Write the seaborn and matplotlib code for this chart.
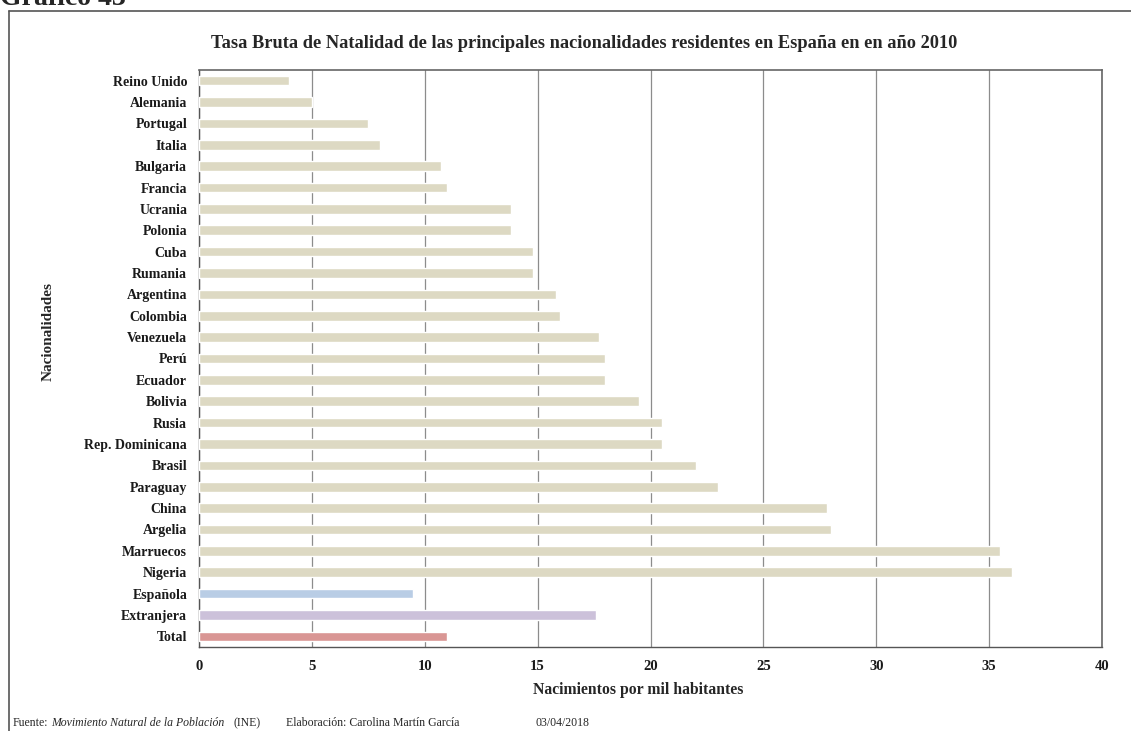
import matplotlib
matplotlib.use("Agg")
import matplotlib.pyplot as plt
from matplotlib.ticker import MultipleLocator, FixedLocator
import seaborn as sns
import pandas as pd

paises = ["Reino Unido", "Alemania", "Portugal", "Italia", "Bulgaria", "Francia",
          "Ucrania", "Polonia", "Cuba", "Rumania", "Argentina", "Colombia",
          "Venezuela", "Perú", "Ecuador", "Bolivia", "Rusia", "Rep. Dominicana",
          "Brasil", "Paraguay", "China", "Argelia", "Marruecos", "Nigeria",
          "Española", "Extranjera", "Total"]
tasas = [4.0, 5.0, 7.5, 8.0, 10.7, 11.0,
         13.8, 13.8, 14.8, 14.8, 15.8, 16.0,
         17.7, 18.0, 18.0, 19.5, 20.5, 20.5,
         22.0, 23.0, 27.8, 28.0, 35.5, 36.0,
         9.5, 17.6, 11.0]
colores = ["#DDD9C3"] * 24 + ["#B9CDE5", "#CCC1DA", "#D99694"]

df = pd.DataFrame({"pais": paises, "tasa": tasas})

sns.set_style("white")
plt.rcParams["font.family"] = ["Liberation Serif", "DejaVu Serif"]

W, H = 1131, 731
fig = plt.figure(figsize=(W / 100, H / 100), dpi=100)
ax = fig.add_axes([199 / W, 1 - 647 / H, (1102 - 199) / W, (647 - 70) / H])

sns.barplot(data=df, y="pais", x="tasa", hue="pais", palette=colores,
            legend=False, width=0.45, saturation=1, ax=ax, zorder=3)

ax.set_xlim(0, 40)
ax.set_ylim(len(paises) - 0.5, -0.5)
ax.xaxis.set_major_locator(MultipleLocator(5))
ax.grid(axis="x", color="#8c8c8c", linewidth=0.9, zorder=0)
ax.set_axisbelow(True)

# ticks between categories, Excel-like
ax.yaxis.set_minor_locator(FixedLocator([i - 0.5 for i in range(len(paises) + 1)]))
ax.tick_params(axis="y", which="major", length=0, pad=8.5)
ax.tick_params(axis="y", which="minor", length=4, color="#555555", width=0.8, direction="out")
ax.tick_params(axis="x", which="major", length=4, color="#555555", width=0.8, direction="out", pad=5)

for lbl in ax.get_yticklabels():
    lbl.set_fontweight("bold")
    lbl.set_fontsize(10)
    lbl.set_color("#1a1a1a")
for lbl in ax.get_xticklabels():
    lbl.set_fontweight("bold")
    lbl.set_fontsize(10.5)
    lbl.set_color("#1a1a1a")

for s in ["left", "bottom"]:
    ax.spines[s].set_color("#555555")
    ax.spines[s].set_linewidth(1.0)
for s in ["top", "right"]:
    ax.spines[s].set_color("#666666")
    ax.spines[s].set_linewidth(1.2)

ax.set_ylabel("Nacionalidades", fontsize=11, fontweight="bold")
ax.yaxis.set_label_coords(-(199 - 55) / (1102 - 199), (647 - 332) / (647 - 70))
ax.set_xlabel("Nacimientos por mil habitantes", fontsize=11.3, fontweight="bold", labelpad=7)
ax.xaxis.label.set_x((638 - 199) / (1102 - 199))

fig.text((210 + 959) / 2 / W, 1 - 44 / H,
         "Tasa Bruta de Natalidad de las principales nacionalidades residentes en España en en año 2010",
         ha="center", va="center", fontsize=13.2, fontweight="bold")

# outer frame (top and left)
fig.add_artist(plt.Line2D([9 / W, 1], [1 - 10.5 / H, 1 - 10.5 / H], color="#555555", linewidth=1.2))
fig.add_artist(plt.Line2D([9 / W, 9 / W], [0, 1 - 10.5 / H], color="#555555", linewidth=1.2))

fig.text(0 / W, 1 - 5 / H, "Gráfico 43", fontsize=20, fontweight="bold", va="baseline", ha="left")

# footer
fy = 1 - 726 / H
piezas = [(13, "Fuente:", "normal"), (51, "Movimiento Natural de la Población", "italic"),
          (234, "(INE)", "normal"), (286, "Elaboración: Carolina Martín García", "normal"),
          (535, "03/04/2018", "normal")]
for px, texto, estilo in piezas:
    fig.text(px / W, fy, texto, fontsize=8.5, style=estilo, va="baseline")

fig.savefig("out.png", dpi=100)
